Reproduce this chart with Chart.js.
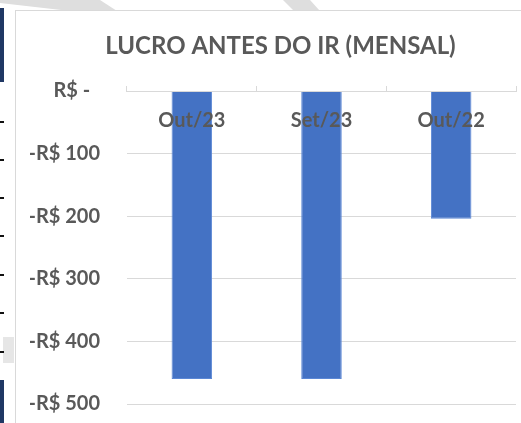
<!DOCTYPE html>
<html>
<head>
<meta charset="utf-8">
<script src="https://cdn.jsdelivr.net/npm/chart.js@4.4.1/dist/chart.umd.min.js"></script>
<style>
  body { margin: 0; background: #fff; }
  #wrap { position: relative; width: 521px; height: 423px; overflow: hidden; }
  .arco { position: absolute; left: 0; top: 0; width: 521px; height: 11px; background: #dedede; }
  .arco1 { clip-path: polygon(0px 0px, 100px 0px, 117px 11px, 70px 11px, 0px 3px); }
  .arco2 { clip-path: polygon(283px 0px, 310px 0px, 320px 11px, 294px 11px); }
  .frame { position: absolute; left: 15px; top: 10px; width: 506px; height: 413px; background: #fff; border-left: 1px solid #d9d9d9; border-top: 1px solid #d9d9d9; }
  .navy { position: absolute; left: 0; width: 4px; background: #203864; }
  .dash { position: absolute; left: 0; width: 4px; height: 2px; background: #111; }
  .gbox { position: absolute; left: 3px; top: 337px; width: 11px; height: 26px; background: #e6e6e6; }
  canvas { position: absolute; left: 0; top: 0; }
</style>
</head>
<body>
<div id="wrap">
  <div class="arco arco1"></div>
  <div class="arco arco2"></div>
  <div class="navy" style="top:8px;height:74px"></div>
  <div class="frame"></div>
  <div class="gbox"></div>
  <div class="dash" style="top:121px"></div>
  <div class="dash" style="top:159px"></div>
  <div class="dash" style="top:197px"></div>
  <div class="dash" style="top:235px"></div>
  <div class="dash" style="top:274px"></div>
  <div class="dash" style="top:312px"></div>
  <div class="dash" style="top:351px"></div>
  <div class="navy" style="top:380px;height:43px"></div>
  <canvas id="chart" width="521" height="423"></canvas>
</div>
<script>
// dados do grafico
var titulo = 'LUCRO ANTES DO IR (MENSAL)';
var categorias = ['Out/23', 'Set/23', 'Out/22'];
var lucroAntesIR = [-460, -460, -204];
var eixoMin = -500;
var eixoMax = 0;
var eixoPasso = 100;

var corTexto = '#595959';
var corGrade = '#d9d9d9';

function formataReal(v) {
    if (v === 0) {
        return 'R$ -  ';
    }
    return (v < 0 ? '-' : '') + 'R$ ' + Math.abs(v);
}

// titulo desenhado a parte, centralizado como no Excel
var tituloPlugin = {
    id: 'tituloPlugin',
    afterDraw: function(chart) {
        var c = chart.ctx;
        c.save();
        c.font = 'bold 24px Lato';
        c.fillStyle = corTexto;
        c.textAlign = 'center';
        c.textBaseline = 'middle';
        c.fillText(titulo, 280.5, 46);
        c.restore();
    }
};

var ctx = document.getElementById('chart').getContext('2d');
var myChart = new Chart(ctx, {
    type: 'bar',
    data: {
        labels: categorias,
        datasets: [{
            label: 'Lucro antes do IR',
            data: lucroAntesIR,
            backgroundColor: '#4472c4',
            borderColor: '#5b87d5',
            borderWidth: 1,
            barPercentage: 0.3125,
            categoryPercentage: 1
        }]
    },
    plugins: [tituloPlugin],
    options: {
        responsive: false,
        animation: false,
        layout: {
            padding: { left: 30, right: 5, top: 91, bottom: 19 }
        },
        plugins: {
            legend: { display: false },
            tooltip: { enabled: false },
            title: { display: false }
        },
        scales: {
            x: {
                // rotulos das categorias junto da linha do zero, como no Excel
                position: { y: 0 },
                offset: true,
                afterFit: function(scale) {
                    scale.height = 0;
                },
                grid: {
                    offset: true,
                    drawOnChartArea: false,
                    color: corGrade,
                    tickLength: -6,
                    z: 1
                },
                border: { color: corGrade, z: 1 },
                ticks: {
                    color: corTexto,
                    padding: 24,
                    maxRotation: 0,
                    z: 1,
                    font: { family: 'Lato', size: 20, weight: 'bold' }
                }
            },
            y: {
                min: eixoMin,
                max: eixoMax,
                afterFit: function(scale) {
                    scale.width = 97;
                },
                grid: {
                    color: corGrade,
                    tickColor: 'rgba(0,0,0,0)',
                    tickLength: 27
                },
                border: { display: false },
                ticks: {
                    stepSize: eixoPasso,
                    color: corTexto,
                    padding: 0,
                    font: { family: 'Lato', size: 20, weight: 'bold' },
                    callback: function(v) {
                        return formataReal(v);
                    }
                }
            }
        }
    }
});
</script>
</body>
</html>
